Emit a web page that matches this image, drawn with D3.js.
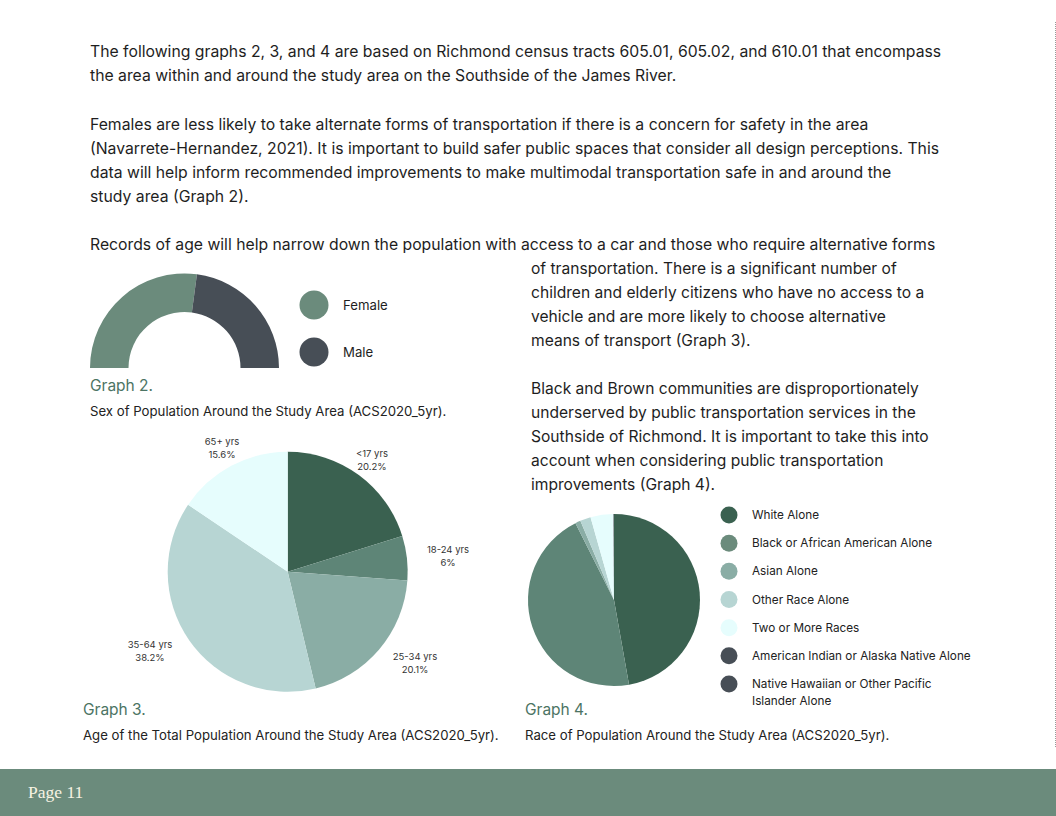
<!DOCTYPE html>
<html><head><meta charset="utf-8">
<script src="https://cdn.jsdelivr.net/npm/d3@7"></script>
<style>html,body{margin:0;padding:0;background:#fff;}svg{display:block;}</style>
</head><body>
<svg id="c" width="1056" height="816"></svg>
<script>
// ---- data ----
const sexCategories = ["Female", "Male"];
const sexValues = [54.2, 45.8];
const sexColors = ["#6b8b7c", "#474e56"];

const ageCategories = ["<17 yrs", "18-24 yrs", "25-34 yrs", "35-64 yrs", "65+ yrs"];
const ageValues = [20.2, 6, 20.1, 38.2, 15.6];
const ageLabels = ["20.2%", "6%", "20.1%", "38.2%", "15.6%"];
const ageColors = ["#3a6150", "#5e8577", "#8aada5", "#b7d5d3", "#e6fdfd"];

const raceCategories = ["White Alone", "Black or African American Alone", "Asian Alone", "Other Race Alone", "Two or More Races", "American Indian or Alaska Native Alone", "Native Hawaiian or Other Pacific Islander Alone"];
const raceValues = [47.2, 45.4, 1.0, 2.0, 4.3, 0.1, 0.0];
const raceColors = ["#3a6150", "#6b8b7c", "#8aada5", "#b7d5d3", "#e6fdfd", "#474e56", "#474e56"];
const raceSliceColors = ["#3a6150", "#5e8577", "#8aada5", "#b7d5d3", "#e6fdfd", "#474e56", "#474e56"];

const paragraphLines = [
  "The following graphs 2, 3, and 4 are based on Richmond census tracts 605.01, 605.02, and 610.01 that encompass",
  "the area within and around the study area on the Southside of the James River.",
  "Females are less likely to take alternate forms of transportation if there is a concern for safety in the area",
  "(Navarrete-Hernandez, 2021). It is important to build safer public spaces that consider all design perceptions. This",
  "data will help inform recommended improvements to make multimodal transportation safe in and around the",
  "study area (Graph 2).",
  "Records of age will help narrow down the population with access to a car and those who require alternative forms"
];
const rightLines = [
  "of transportation. There is a significant number of",
  "children and elderly citizens who have no access to a",
  "vehicle and are more likely to choose alternative",
  "means of transport (Graph 3).",
  "",
  "Black and Brown communities are disproportionately",
  "underserved by public transportation services in the",
  "Southside of Richmond. It is important to take this into",
  "account when considering public transportation",
  "improvements (Graph 4)."
];

const svg = d3.select("#c");
const FONT = "Inter, 'Open Sans', sans-serif";
const TXT = "#1e1e1e";

// ---- paragraphs ----
const leftY = [57, 81, 130, 154, 178, 202, 250];
svg.append("g").selectAll("text").data(paragraphLines).join("text")
  .attr("x", 90).attr("y", (d, i) => leftY[i])
  .attr("font-family", FONT).attr("font-size", 15.75).attr("fill", TXT)
  .text(d => d);
svg.append("g").selectAll("text").data(rightLines).join("text")
  .attr("x", 531).attr("y", (d, i) => 274 + i * 24)
  .attr("font-family", FONT).attr("font-size", 15.6).attr("fill", TXT)
  .text(d => d);

// ---- Graph 2: half donut ----
{
  const g = svg.append("g").attr("transform", "translate(184.5,368)");
  const pie = d3.pie().sort(null).startAngle(-Math.PI / 2).endAngle(Math.PI / 2);
  const arc = d3.arc().innerRadius(56).outerRadius(94.5);
  g.selectAll("path").data(pie(sexValues)).join("path")
    .attr("d", arc).attr("fill", (d, i) => sexColors[i]);
  const lg = svg.append("g");
  const ly = d3.scalePoint().domain(sexCategories).range([305, 352]);
  lg.selectAll("circle").data(sexCategories).join("circle")
    .attr("cx", 314).attr("cy", d => ly(d)).attr("r", 14.5)
    .attr("fill", (d, i) => sexColors[i]);
  lg.selectAll("text").data(sexCategories).join("text")
    .attr("x", 343).attr("y", d => ly(d) + 4.5)
    .attr("font-family", FONT).attr("font-size", 13.2).attr("fill", TXT).text(d => d);
}

// ---- Graph 3: age pie ----
{
  const cx = 287.7, cy = 571.7, r = 120;
  const g = svg.append("g").attr("transform", `translate(${cx},${cy})`);
  const pie = d3.pie().sort(null);
  const arcs = pie(ageValues);
  const arc = d3.arc().innerRadius(0).outerRadius(r);
  g.selectAll("path").data(arcs).join("path")
    .attr("d", arc).attr("fill", (d, i) => ageColors[i]);
  const labelPos = [[372, 454], [448, 550], [415, 657], [150, 645], [222, 442]];
  const lgp = svg.append("g").attr("font-family", FONT).attr("font-size", 9.5).attr("fill", "#333").attr("text-anchor", "middle");
  ageCategories.forEach((c, i) => {
    const t = lgp.append("text").attr("x", labelPos[i][0]).attr("y", labelPos[i][1] + 3);
    t.append("tspan").attr("x", labelPos[i][0]).text(c);
    t.append("tspan").attr("x", labelPos[i][0]).attr("dy", 12.5).text(ageLabels[i]);
  });
}

// ---- Graph 4: race pie ----
{
  const cx = 614, cy = 600, r = 86;
  const g = svg.append("g").attr("transform", `translate(${cx},${cy})`);
  const pie = d3.pie().sort(null);
  const arc = d3.arc().innerRadius(0).outerRadius(r);
  g.selectAll("path").data(pie(raceValues)).join("path")
    .attr("d", arc).attr("fill", (d, i) => raceSliceColors[i]);
  const lg = svg.append("g");
  const ly = d3.scaleLinear().domain([0, 6]).range([515, 684]);
  lg.selectAll("circle").data(raceCategories).join("circle")
    .attr("cx", 729).attr("cy", (d, i) => ly(i)).attr("r", 8.5)
    .attr("fill", (d, i) => raceColors[i]);
  const tl = lg.selectAll("text").data(raceCategories).join("text")
    .attr("font-family", FONT).attr("font-size", 11.75).attr("fill", "#222");
  tl.each(function(d, i) {
    const t = d3.select(this);
    if (i === 6) {
      t.append("tspan").attr("x", 752).attr("y", ly(i) + 4).text("Native Hawaiian or Other Pacific");
      t.append("tspan").attr("x", 752).attr("dy", 17).text("Islander Alone");
    } else {
      t.attr("x", 752).attr("y", ly(i) + 4).text(d);
    }
  });
}

// ---- captions ----
const caps = [
  {x: 90, y: 385, t: "Graph 2.", s: "Sex of Population Around the Study Area (ACS2020_5yr).", sy: 411},
  {x: 83, y: 709, t: "Graph 3.", s: "Age of the Total Population Around the Study Area (ACS2020_5yr).", sy: 735},
  {x: 525, y: 709, t: "Graph 4.", s: "Race of Population Around the Study Area (ACS2020_5yr).", sy: 735}
];
caps.forEach(c => {
  svg.append("text").attr("x", c.x).attr("y", c.y + 5.5).attr("font-family", FONT)
    .attr("font-size", 15.5).attr("fill", "#4c7464").text(c.t);
  svg.append("text").attr("x", c.x).attr("y", c.sy + 4.5).attr("font-family", FONT)
    .attr("font-size", 13.2).attr("fill", "#222").text(c.s);
});

// ---- right dashed edge ----
svg.append("line").attr("x1", 1055.5).attr("x2", 1055.5).attr("y1", 22).attr("y2", 748)
  .attr("stroke", "#999").attr("stroke-width", 1).attr("stroke-dasharray", "1,1");

// ---- footer ----
svg.append("rect").attr("x", 0).attr("y", 769).attr("width", 1056).attr("height", 47).attr("fill", "#6b8b7c");
svg.append("text").attr("x", 28).attr("y", 798).attr("font-family", "'Liberation Serif', 'DejaVu Serif', serif")
  .attr("font-size", 17.5).attr("fill", "#f7f3e3").text("Page 11");
</script>
</body></html>
